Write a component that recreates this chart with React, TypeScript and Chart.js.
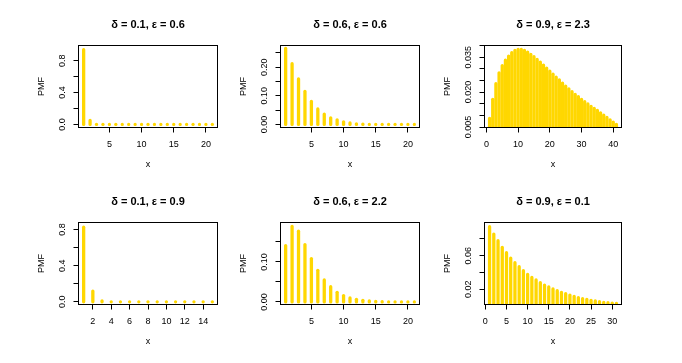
import React, { useEffect, useRef } from "react";
import { Chart, registerables } from "chart.js";

Chart.register(...registerables);

// ---------- data ----------
const titles = [
  "δ = 0.1, ε = 0.6",
  "δ = 0.6, ε = 0.6",
  "δ = 0.9, ε = 2.3",
  "δ = 0.1, ε = 0.9",
  "δ = 0.6, ε = 2.2",
  "δ = 0.9, ε = 0.1",
];

// PMF values, support starting at x = 1
const pmfD01E06 = [0.958, 0.071, 0.012, 0.004, 0.002, 0.0015, 0.001, 0.0008, 0.0006, 0.0005, 0.0004, 0.0003, 0.0003, 0.0002, 0.0002, 0.0002, 0.0001, 0.0001, 0.0001, 0.0001, 0.0001];
const pmfD06E06 = [0.272, 0.218, 0.165, 0.121, 0.086, 0.06, 0.042, 0.029, 0.022, 0.015, 0.011, 0.008, 0.007, 0.006, 0.005, 0.004, 0.004, 0.003, 0.003, 0.003, 0.002];
const pmfD09E23 = [0.0094, 0.0176, 0.0243, 0.029, 0.0321, 0.0344, 0.0361, 0.0376, 0.0386, 0.039, 0.039, 0.0386, 0.0379, 0.0369, 0.0359, 0.0347, 0.0336, 0.0323, 0.031, 0.0297, 0.0284, 0.0271, 0.0259, 0.0246, 0.0233, 0.0221, 0.0209, 0.0197, 0.0187, 0.0176, 0.0166, 0.0156, 0.0146, 0.0137, 0.0128, 0.0118, 0.0108, 0.0098, 0.0088, 0.0078, 0.0068];
const pmfD01E09 = [0.845, 0.137, 0.027, 0.01, 0.004, 0.002, 0.0015, 0.001, 0.0008, 0.0006, 0.0005, 0.0004, 0.0003, 0.0003, 0.0002];
const pmfD06E22 = [0.145, 0.193, 0.181, 0.1475, 0.1125, 0.083, 0.059, 0.042, 0.028, 0.02, 0.014, 0.0105, 0.008, 0.0065, 0.0055, 0.0045, 0.004, 0.0035, 0.003, 0.0025, 0.002];
const pmfD09E01 = [0.0964, 0.0877, 0.0798, 0.0719, 0.0655, 0.0592, 0.0537, 0.0489, 0.0442, 0.0398, 0.0362, 0.0331, 0.0299, 0.0271, 0.0248, 0.0224, 0.0204, 0.0184, 0.0168, 0.0152, 0.0137, 0.0121, 0.0109, 0.0101, 0.0089, 0.0081, 0.0073, 0.0065, 0.0061, 0.0057, 0.0053];

// axis ranges
const xLims = [[0.2, 21.8], [0.2, 21.8], [-0.6, 42.6], [0.44, 15.56], [0.2, 21.8], [-0.2, 32.2]];
const yLims = [[-0.038, 0.99], [-0.0106, 0.276], [0.0048, 0.04], [-0.03, 0.878], [-0.0065, 0.1985], [0.002, 0.0995]];

// tick marks and labels
const xTicks1 = [5, 10, 15, 20];
const xTicks3 = [0, 10, 20, 30, 40];
const xTicks4 = [2, 4, 6, 8, 10, 12, 14];
const xTicks6 = [0, 5, 10, 15, 20, 25, 30];

const yTicks1 = [0, 0.2, 0.4, 0.6, 0.8];
const yLabels1 = ["0.0", "", "0.4", "", "0.8"];
const yTicks2 = [0, 0.05, 0.1, 0.15, 0.2, 0.25];
const yLabels2 = ["0.00", "", "0.10", "", "0.20", ""];
const yTicks3 = [0.005, 0.01, 0.015, 0.02, 0.025, 0.03, 0.035, 0.04];
const yLabels3 = ["0.005", "", "", "0.020", "", "", "0.035", ""];
const yTicks5 = [0, 0.05, 0.1, 0.15];
const yLabels5 = ["0.00", "", "0.10", ""];
const yTicks6 = [0.02, 0.04, 0.06, 0.08];
const yLabels6 = ["0.02", "", "0.06", ""];

const xLabel = "x";
const yLabel = "PMF";

// ---------- layout / style ----------
const W = 682;
const H = 363;
const GOLD = "#FFD700";
const LWD = 3.3;
const TICK = 5;
const FONT = '"Liberation Sans", Arial, Helvetica, sans-serif';
const colL = [78.5, 280.5, 484.5];
const colR = [217.5, 419.5, 621.5];
const rowT = [45.5, 222.5];
const rowB = [127.5, 304.5];

type Cfg = {
  title: string;
  values: number[];
  xLim: number[];
  yLim: number[];
  xTicks: number[];
  yTicks: number[];
  yLabels: string[];
  box: { l: number; t: number; r: number; b: number };
};

const panelValues = [pmfD01E06, pmfD06E06, pmfD09E23, pmfD01E09, pmfD06E22, pmfD09E01];
const panelXTicks = [xTicks1, xTicks1, xTicks3, xTicks4, xTicks1, xTicks6];
const panelYTicks = [yTicks1, yTicks2, yTicks3, yTicks1, yTicks5, yTicks6];
const panelYLabels = [yLabels1, yLabels2, yLabels3, yLabels1, yLabels5, yLabels6];

const panels: Cfg[] = panelValues.map((values, i) => {
  const row = Math.floor(i / 3);
  const col = i % 3;
  return {
    title: titles[i],
    values,
    xLim: xLims[i],
    yLim: yLims[i],
    xTicks: panelXTicks[i],
    yTicks: panelYTicks[i],
    yLabels: panelYLabels[i],
    box: { l: colL[col], t: rowT[row], r: colR[col], b: rowB[row] },
  };
});

function framePlugin(cfg: Cfg) {
  return {
    id: "rframe",
    afterDraw(chart: any) {
      const ctx = chart.ctx as CanvasRenderingContext2D;
      const a = chart.chartArea;
      const xs = chart.scales.x;
      const ys = chart.scales.y;
      ctx.save();
      ctx.strokeStyle = "#000";
      ctx.lineWidth = 1;
      ctx.strokeRect(a.left, a.top, a.right - a.left, a.bottom - a.top);
      ctx.beginPath();
      cfg.xTicks.forEach((v) => {
        const p = Math.round(xs.getPixelForValue(v) - 0.5) + 0.5;
        ctx.moveTo(p, a.bottom);
        ctx.lineTo(p, a.bottom + TICK);
      });
      cfg.yTicks.forEach((v) => {
        const p = Math.round(ys.getPixelForValue(v) - 0.5) + 0.5;
        ctx.moveTo(a.left, p);
        ctx.lineTo(a.left - TICK, p);
      });
      ctx.stroke();

      ctx.fillStyle = "#000";
      ctx.textAlign = "center";
      ctx.textBaseline = "middle";
      ctx.font = `9px ${FONT}`;
      cfg.xTicks.forEach((v) => {
        ctx.fillText(String(v), xs.getPixelForValue(v), a.bottom + 16.8);
      });
      cfg.yTicks.forEach((v, i) => {
        const lab = cfg.yLabels[i];
        if (!lab) return;
        ctx.save();
        ctx.translate(a.left - 16.3, ys.getPixelForValue(v));
        ctx.rotate(-Math.PI / 2);
        ctx.fillText(lab, 0, 0);
        ctx.restore();
      });
      const cx = (a.left + a.right) / 2;
      const cy = (a.top + a.bottom) / 2;
      ctx.fillText(xLabel, cx, a.bottom + 37.3);
      ctx.save();
      ctx.translate(a.left - 37.3, cy);
      ctx.rotate(-Math.PI / 2);
      ctx.fillText(yLabel, 0, 0);
      ctx.restore();
      ctx.font = `bold 11px ${FONT}`;
      ctx.fillText(cfg.title, cx, a.top - 21);
      ctx.restore();
    },
  };
}

function Panel({ cfg }: { cfg: Cfg }) {
  const ref = useRef<HTMLCanvasElement>(null);
  useEffect(() => {
    const canvas = ref.current;
    if (!canvas) return;
    const { box } = cfg;
    const cap = (LWD / 2) * (cfg.yLim[1] - cfg.yLim[0]) / (box.b - box.t);
    const chart = new Chart(canvas, {
      type: "bar",
      data: {
        datasets: [
          {
            data: cfg.values.map((v, i) => ({ x: i + 1, y: v })),
            backgroundColor: GOLD,
            borderWidth: 0,
            barThickness: LWD,
            borderRadius: LWD / 2,
            borderSkipped: false,
            inflateAmount: 0,
            minBarLength: LWD,
            base: -cap,
            clip: 0,
          } as any,
        ],
      },
      options: {
        responsive: false,
        animation: false,
        devicePixelRatio: 1,
        events: [],
        layout: {
          padding: { left: box.l, top: box.t, right: W - box.r, bottom: H - box.b },
        },
        plugins: {
          legend: { display: false },
          tooltip: { enabled: false },
          title: { display: false },
        },
        scales: {
          x: { type: "linear", min: cfg.xLim[0], max: cfg.xLim[1], display: false, offset: false },
          y: { type: "linear", min: cfg.yLim[0], max: cfg.yLim[1], display: false },
        },
      } as any,
      plugins: [framePlugin(cfg)],
    });
    return () => chart.destroy();
  }, [cfg]);
  return (
    <canvas
      ref={ref}
      width={W}
      height={H}
      style={{ position: "absolute", left: 0, top: 0, width: W, height: H }}
    />
  );
}

export default function App() {
  return (
    <div style={{ position: "absolute", left: 0, top: 0, width: W, height: H, background: "#fff", overflow: "hidden" }}>
      {panels.map((p, i) => (
        <Panel key={i} cfg={p} />
      ))}
    </div>
  );
}
